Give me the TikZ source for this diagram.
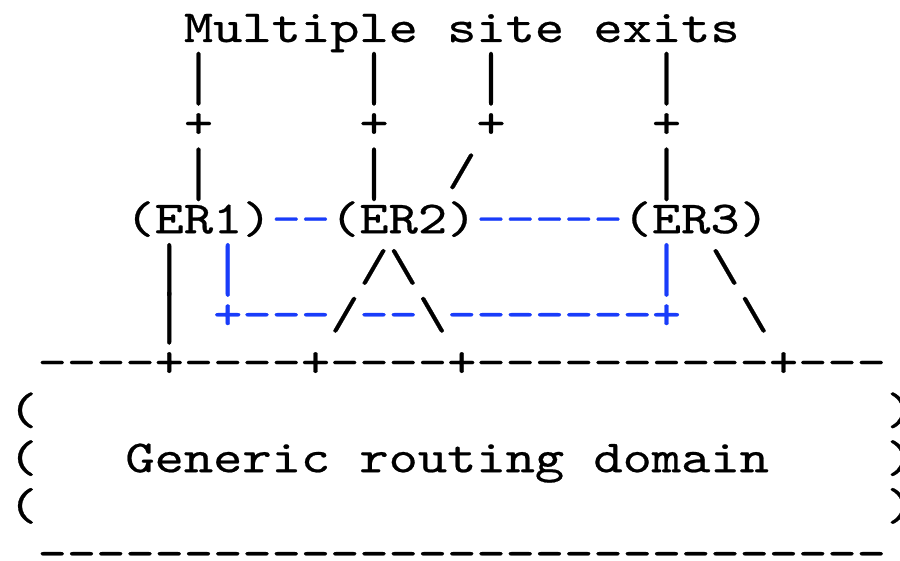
\documentclass[tikz,border=0pt]{standalone}
\usepackage{fontspec}
\usetikzlibrary{positioning}

\newfontfamily\artfont[FakeStretch=1.2112, FakeBold=0.5]{lmmono10-regular.otf}
\definecolor{linkblue}{RGB}{25,60,250}
\newcommand{\bl}[1]{\textcolor{linkblue}{#1}}
\newcommand{\bs}{\textbackslash}
\newcommand{\vb}{\raisebox{-5pt}{\scalebox{1}[1.5]{|}}}

\begin{document}
\begin{tikzpicture}[x=0.5pt, y=-0.5pt]
  \tikzset{
    row/.style={
      inner sep=0pt,
      outer sep=0pt,
      anchor=base west,
      font=\artfont\fontsize{23pt}{23pt}\selectfont},
    next/.style={
      below=23.9pt of #1.base west,
      anchor=base west}}

  \path[use as bounding box, fill=white] (0,0) rectangle (900,561);

  \node[row] (title) at (8.4,42) {~~~~~~Multiple~site~exits};
  \node[row] (uplink) [next=title] {~~~~~~\vb~~~~~\vb~~~\vb~~~~~\vb};
  \node[row] (joint) [next=uplink] {~~~~~~+~~~~~+~~~+~~~~~+};
  \node[row] (downlink) [next=joint] {~~~~~~\vb~~~~~\vb~~/~~~~~~\vb};

  % exit routers and the blue mesh
  \node[row] (routers) [next=downlink] {~~~~(ER1)\bl{--}(ER2)\bl{-----}(ER3)};
  \node[row] (legs) [next=routers] {~~~~~\vb~\bl{\vb}~~~~/\bs~~~~~~~~\bl{\vb}~\bs};
  \node[row] (mesh) [next=legs] {~~~~~\vb~\bl{+---}/\bl{--}\bs\bl{-------+}~~\bs};

  % generic routing domain
  \node[row] (edge) [next=mesh] {~----+----+----+----------+---};
  \node[row] (side1) [next=edge] {(~~~~~~~~~~~~~~~~~~~~~~~~~~~~~)};
  \node[row] (domain) [next=side1] {(~~~Generic~routing~domain~~~~)};
  \node[row] (side2) [next=domain] {(~~~~~~~~~~~~~~~~~~~~~~~~~~~~~)};
  \node[row] (floor) [next=side2] {~-----------------------------};

\end{tikzpicture}
\end{document}
